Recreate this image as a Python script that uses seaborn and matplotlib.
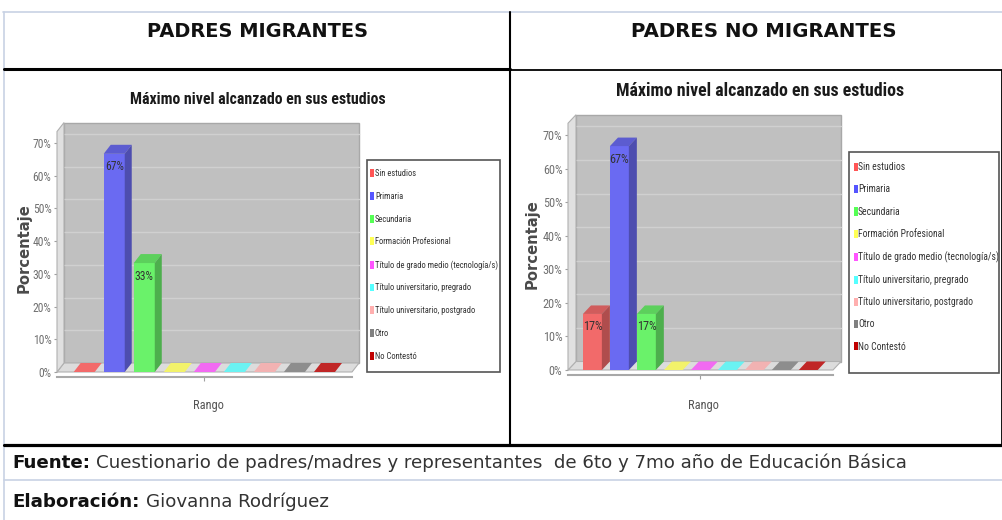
import numpy as np
import pandas as pd
import matplotlib
matplotlib.use("Agg")
import matplotlib.pyplot as plt
import matplotlib.patches as mpatches
from matplotlib.lines import Line2D
from matplotlib import font_manager, colors as mcolors
import seaborn as sns

# ---------------- data ----------------
categorias = ["Sin estudios", "Primaria", "Secundaria", "Formación Profesional",
              "Título de grado medio (tecnología/s)", "Título universitario, pregrado",
              "Título universitario, postgrado", "Otro", "No Contestó"]
valores_migrantes = [0, 66.7, 33.3, 0, 0, 0, 0, 0, 0]
valores_no_migrantes = [16.7, 66.7, 16.7, 0, 0, 0, 0, 0, 0]
colores = ["#ff5555", "#5555ff", "#55ff55", "#ffff55", "#ff55ff",
           "#55ffff", "#ffafaf", "#808080", "#c00000"]
ticks_y = [0, 10, 20, 30, 40, 50, 60, 70]
etiquetas_y = ["0%", "10%", "20%", "30%", "40%", "50%", "60%", "70%"]
titulos_columna = ["PADRES MIGRANTES", "PADRES NO MIGRANTES"]
titulo_grafico = "Máximo nivel alcanzado en sus estudios"
eje_x = "Rango"
eje_y = "Porcentaje"
fuente_bold = "Fuente:"
fuente_texto = "Cuestionario de padres/madres y representantes  de 6to y 7mo año de Educación Básica"
elab_bold = "Elaboración:"
elab_texto = "Giovanna Rodríguez"

# ---------------- setup ----------------
W, H = 1003, 520
sns.set_style("white")
plt.rcParams["font.family"] = ["DejaVu Sans"]
fig = plt.figure(figsize=(W / 100, H / 100), dpi=100)
fig.patch.set_facecolor("white")
renderer = fig.canvas.get_renderer()

avail = {f.name for f in font_manager.fontManager.ttflist}


def font(weight="normal", narrow=False, family="DejaVu Sans"):
    if narrow:
        for n in ["Liberation Sans Narrow", "DejaVu Sans Condensed", "Roboto Condensed",
                  "Noto Sans Condensed", "Open Sans Condensed"]:
            if n in avail:
                return font_manager.FontProperties(family=n, weight=weight)
        return font_manager.FontProperties(family="DejaVu Sans", weight=weight, stretch="condensed")
    return font_manager.FontProperties(family=family, weight=weight)


def sized(fp, size):
    c = fp.copy()
    c.set_size(size)
    return c


def measure(s, fp):
    t = fig.text(0, 0, s, fontproperties=fp)
    bb = t.get_window_extent(renderer)
    t.remove()
    return bb.width, bb.height


def fit(s, fp, target, scale=1.0):
    w, _ = measure(s, sized(fp, 10))
    return sized(fp, 10 * target / w * scale)


def fx(x):
    return x / W


def fy(y):
    return 1 - y / H


WALL = np.array(mcolors.to_rgb("#c0c0c0"))


def blend(c, a=0.8):
    return tuple(a * np.array(mcolors.to_rgb(c)) + (1 - a) * WALL)


def shade(c, f):
    return tuple(np.clip(np.array(c) * f, 0, 1))


XLIM = (-0.436, 0.437)
YMAX = 73.5

NARROW = font(narrow=True)
NARROW_B = font("bold", narrow=True)


def panel(valores, g):
    zero, y70 = g["zero"], g["y70"]
    ppy = (zero - y70) / 70.0
    top = zero - YMAX * ppy
    ax = fig.add_axes([fx(g["x0"]), fy(zero), (g["x1"] - g["x0"]) / W, (zero - top) / H])
    ax.patch.set_visible(False)
    df = pd.DataFrame({"Rango": [""] * len(categorias), "Nivel": categorias,
                       "Porcentaje": valores})
    sns.barplot(data=df, x="Rango", y="Porcentaje", hue="Nivel", hue_order=categorias,
                palette=colores, saturation=1, gap=0.3, width=0.8, errorbar=None,
                legend=False, ax=ax)
    bars = sorted(list(ax.patches), key=lambda p: p.get_x())
    ax.set_xlim(*XLIM)
    ax.set_ylim(0, YMAX)
    ppx = (g["x1"] - g["x0"]) / (XLIM[1] - XLIM[0])
    ddx, ddy = g["dx"] / ppx, g["dy"] / ppy
    x0, x1 = XLIM

    # 3D box: back wall, floor, left wall, grid
    ax.add_patch(mpatches.Rectangle((x0 + ddx, ddy), x1 - x0, YMAX, facecolor="#c0c0c0",
                                    edgecolor="#a8a8a8", lw=1, zorder=0.5, clip_on=False))
    for yt in ticks_y[1:]:
        ax.plot([x0 + ddx, x1 + ddx], [yt + ddy] * 2, color="#d0d0d0", lw=1,
                zorder=0.55, clip_on=False)
    ax.add_patch(mpatches.Polygon([(x0, 0), (x0 + ddx, ddy), (x1 + ddx, ddy), (x1, 0)],
                                  closed=True, facecolor="#dcdcdc", edgecolor="#b0b0b0",
                                  lw=0.8, zorder=0.6, clip_on=False))
    ax.add_patch(mpatches.Polygon([(x0, 0), (x0 + ddx, ddy), (x0 + ddx, YMAX + ddy), (x0, YMAX)],
                                  closed=True, facecolor="#e0e0e0", edgecolor="#b0b0b0",
                                  lw=0.8, zorder=0.6, clip_on=False))

    fp_small = fit("70%", NARROW, g["tick_w"], 1.1)
    for p in bars:
        x, w, h = p.get_x(), p.get_width(), p.get_height()
        front = blend(p.get_facecolor())
        p.set_facecolor(front)
        p.set_edgecolor("none")
        p.set_zorder(3)
        topc = shade(front, 0.86) if h > 0 else front
        ax.add_patch(mpatches.Polygon([(x, h), (x + ddx, h + ddy), (x + w + ddx, h + ddy), (x + w, h)],
                                      closed=True, facecolor=topc, edgecolor="none",
                                      zorder=3, clip_on=False))
        if h > 0:
            ax.add_patch(mpatches.Polygon([(x + w, 0), (x + w + ddx, ddy), (x + w + ddx, h + ddy), (x + w, h)],
                                          closed=True, facecolor=shade(front, 0.72),
                                          edgecolor="none", zorder=3, clip_on=False))
            ax.annotate(f"{h:.0f}%", xy=(x + w / 2, h), xytext=(0, -13),
                        textcoords="offset pixels", ha="center", va="center",
                        fontproperties=fp_small, color="#333333", zorder=4)

    # axes styling
    for s in ["top", "right", "left"]:
        ax.spines[s].set_visible(False)
    ax.spines["bottom"].set_position(("outward", 3.6))
    ax.spines["bottom"].set_color("#a8a8a8")
    ax.spines["bottom"].set_linewidth(1.5)
    ax.set_yticks(ticks_y, labels=etiquetas_y)
    ax.set_xticks([0], labels=[""])
    ax.tick_params(axis="y", left=True, length=2, width=0.8, color="#a0a0a0",
                   labelcolor="#707070", pad=2)
    ax.tick_params(axis="x", bottom=True, length=3, width=0.8, color="#a0a0a0")
    for lab in ax.get_yticklabels():
        lab.set_fontproperties(fp_small)

    ax.set_xlabel(eje_x, fontproperties=fit(eje_x, NARROW, 28, 1.1), color="#555555")
    ax.xaxis.set_label_coords(fx(g["xl"][0]), fy(g["xl"][1]), transform=fig.transFigure)
    ax.xaxis.label.set_va("center")
    ax.set_ylabel(eje_y, fontproperties=fit(eje_y, font("bold"), g["yl"][2]), color="#4a4a4a")
    ax.yaxis.set_label_coords(fx(g["yl"][0]), fy(g["yl"][1]), transform=fig.transFigure)
    ax.yaxis.label.set_va("center")
    ax.yaxis.label.set_ha("center")

    # chart title
    tx, tb, tw = g["title"]
    fig.text(fx(tx), fy(tb), titulo_grafico, ha="center", va="baseline",
             fontproperties=fit(titulo_grafico, NARROW_B, tw, 1.05), color="#1a1a1a")

    # legend
    longest = max(categorias, key=lambda s: measure(s, sized(NARROW, 10))[0])
    fp_leg = fit(longest, NARROW, g["leg_w"])
    fs_px = fp_leg.get_size_in_points() * 100 / 72
    _, th = measure(longest, fp_leg)
    rowh = max(th, g["mk_h"])
    handles = [mpatches.Patch(facecolor=c, edgecolor="none", label=n)
               for c, n in zip(colores, categorias)]
    ax.legend(handles=handles, loc="upper left",
              bbox_to_anchor=(fx(g["mk_x"]), fy(g["first"] - rowh / 2)),
              bbox_transform=fig.transFigure, frameon=False, prop=fp_leg,
              handlelength=g["mk_w"] / fs_px, handleheight=g["mk_h"] / fs_px,
              handletextpad=(g["txt_x"] - g["mk_x"] - g["mk_w"]) / fs_px,
              labelspacing=(g["pitch"] - rowh) / fs_px, borderpad=0, borderaxespad=0,
              labelcolor="#333333")
    bx0, by0, bx1, by1 = g["legbox"]
    fig.add_artist(mpatches.Rectangle((fx(bx0), fy(by1)), (bx1 - bx0) / W, (by1 - by0) / H,
                                      transform=fig.transFigure, fill=False,
                                      edgecolor="#555555", lw=1.2))
    return ax


geo_izq = dict(x0=57, x1=352, zero=372, y70=143, dx=7, dy=9, title=(258, 104, 243),
               yl=(24, 248, 90), xl=(208, 405), tick_w=17, legbox=(367, 160, 500, 372),
               mk_x=370, txt_x=375, first=174, pitch=23.3, leg_w=123, mk_w=4, mk_h=9)
geo_der = dict(x0=568, x1=833, zero=370, y70=135, dx=8, dy=8.5, title=(760, 96, 275),
               yl=(532, 244, 90), xl=(703, 405), tick_w=18, legbox=(849, 152, 999, 373),
               mk_x=854, txt_x=858, first=168, pitch=23.75, leg_w=138, mk_w=4, mk_h=9)

panel(valores_migrantes, geo_izq)
panel(valores_no_migrantes, geo_der)

# ---------------- table frame ----------------
LIGHT = "#c8d2e4"


def hline(y, xa, xb, color, lw):
    fig.add_artist(Line2D([fx(xa), fx(xb)], [fy(y)] * 2, transform=fig.transFigure,
                          color=color, lw=lw))


def vline(x, ya, yb, color, lw):
    fig.add_artist(Line2D([fx(x)] * 2, [fy(ya), fy(yb)], transform=fig.transFigure,
                          color=color, lw=lw))


hline(12, 3, 1003, LIGHT, 1.2)
vline(4, 12, 520, LIGHT, 1.2)
vline(510, 12, 446, "black", 1.5)
hline(69, 4, 510, "black", 2.2)
hline(70, 510, 1003, "black", 1.3)
vline(1002, 70, 446, "black", 1.3)
hline(445, 4, 1003, "black", 2.3)
hline(480, 4, 1003, LIGHT, 1.2)

# column headers
HDR = font("bold")
fig.text(fx(257.5), fy(37), titulos_columna[0], ha="center", va="baseline",
         fontproperties=fit(titulos_columna[0], HDR, 221), color="#111111")
fig.text(fx(763.5), fy(37), titulos_columna[1], ha="center", va="baseline",
         fontproperties=fit(titulos_columna[1], HDR, 267), color="#111111")

# footer
FB, FR = font("bold"), font()
size = 10.0
wb, _ = measure(fuente_bold + " ", sized(FB, size))
wr, _ = measure(fuente_texto, sized(FR, size))
size = size * (937 - 12) / (wb + wr) * 0.97
wb, _ = measure(fuente_bold + " ", sized(FB, size))
fig.text(fx(12), fy(468), fuente_bold, ha="left", va="baseline",
         fontproperties=sized(FB, size), color="#111111")
fig.text(fx(12 + wb), fy(468), fuente_texto, ha="left", va="baseline",
         fontproperties=sized(FR, size), color="#333333")
wb2, _ = measure(elab_bold + " ", sized(FB, size))
fig.text(fx(12), fy(507), elab_bold, ha="left", va="baseline",
         fontproperties=sized(FB, size), color="#111111")
fig.text(fx(12 + wb2), fy(507), elab_texto, ha="left", va="baseline",
         fontproperties=sized(FR, size), color="#333333")

fig.savefig("out.png", dpi=100, facecolor="white")
